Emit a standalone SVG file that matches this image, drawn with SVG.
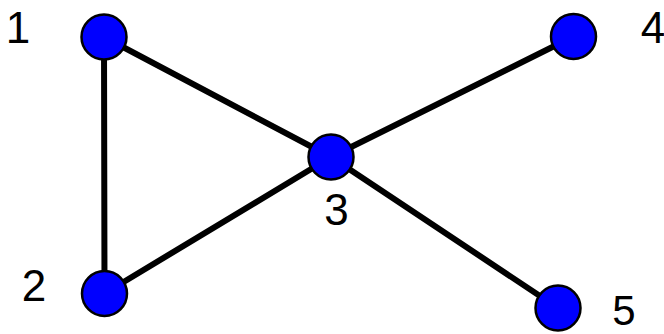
<svg xmlns="http://www.w3.org/2000/svg" width="664" height="334" viewBox="0 0 664 334">
<style>
.edge{stroke:#000;stroke-width:6;stroke-linecap:round}
.node circle{fill:#0000ff;stroke:#000;stroke-width:2.5}
.lbl{font-family:"Liberation Sans",Arial,sans-serif;font-size:44px;fill:#000;text-anchor:middle}
</style>
<rect width="664" height="334" fill="#fff"/>
<g id="connectors">
<line class="edge" x1="104" y1="37" x2="104.5" y2="293.5"/>
<line class="edge" x1="104" y1="37" x2="331" y2="157"/>
<line class="edge" x1="104.5" y1="293.5" x2="331" y2="157"/>
<line class="edge" x1="331" y1="157" x2="573.5" y2="36.5"/>
<line class="edge" x1="331" y1="157" x2="558" y2="308"/>
</g>
<g id="node1" class="node"><circle cx="104" cy="37" r="22.5"/><text class="lbl" x="18" y="43">1</text></g>
<g id="node2" class="node"><circle cx="104.5" cy="293.5" r="22.5"/><text class="lbl" x="34" y="301">2</text></g>
<g id="node3" class="node"><circle cx="331" cy="157" r="22.5"/><text class="lbl" x="336.5" y="225">3</text></g>
<g id="node4" class="node"><circle cx="573.5" cy="36.5" r="22.5"/><text class="lbl" x="653" y="43">4</text></g>
<g id="node5" class="node"><circle cx="558" cy="308" r="22.5"/><text class="lbl" x="624" y="325" style="font-size:42px">5</text></g>
</svg>
